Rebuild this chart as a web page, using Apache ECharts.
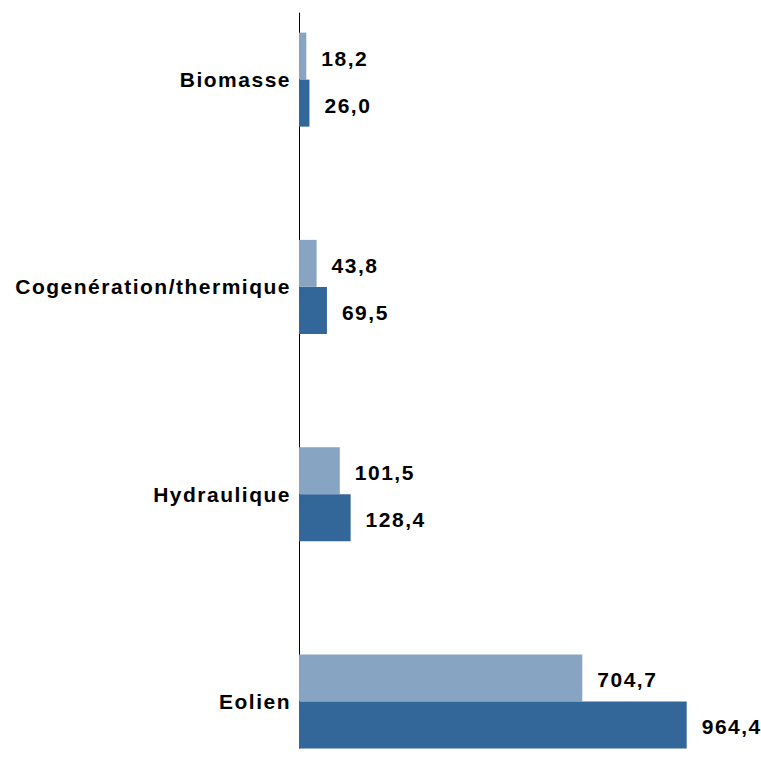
<!DOCTYPE html>
<html>
<head>
<meta charset="utf-8">
<script src="https://cdn.jsdelivr.net/npm/echarts@6/dist/echarts.min.js"></script>
<style>
    html, body { margin: 0; padding: 0; background: #fff; }
    #chart { width: 761px; height: 764px; }
    #chart text { letter-spacing: 1.5px; }
</style>
</head>
<body>
<div id="chart"></div>
<script>
const categories = ['Biomasse', 'Cogenération/thermique', 'Hydraulique', 'Eolien'];
const serieClaire = [18.2, 43.8, 101.5, 704.7];
const serieFoncee = [26.0, 69.5, 128.4, 964.4];

const fontFamily = '"Liberation Sans", Arial, sans-serif';
const fmt = (p) => p.value.toFixed(1).replace('.', ',');

const barLabel = {
    show: true,
    position: 'right',
    distance: 15,
    offset: [0, 2],
    formatter: fmt,
    color: '#000',
    fontSize: 21,
    fontWeight: 'bold',
    fontFamily: fontFamily,
};

const chart = echarts.init(document.getElementById('chart'), null, {renderer: 'svg'});
chart.setOption({
    animation: false,
    backgroundColor: '#fff',
    grid: [
        // bandes de catégories plus hautes que l'axe visible
        {left: 299, top: -24, width: 400, height: 829, outerBoundsMode: 'none', containLabel: false},
        {left: 299, top: 13, width: 400, height: 735, outerBoundsMode: 'none', containLabel: false},
    ],
    xAxis: [
        {type: 'value', gridIndex: 0, min: 0, max: 995, show: false},
        {type: 'value', gridIndex: 1, min: 0, max: 995, show: false},
    ],
    yAxis: [
        {
            type: 'category',
            gridIndex: 0,
            inverse: true,
            data: categories,
            axisLine: {show: false},
            axisTick: {show: false},
            axisLabel: {
                margin: 8,
                color: '#000',
                fontSize: 21,
                fontWeight: 'bold',
                fontFamily: fontFamily,
            },
        },
        {
            type: 'value',
            gridIndex: 1,
            min: 0,
            max: 1,
            axisLine: {show: true, onZero: false, lineStyle: {color: '#000', width: 1}},
            axisTick: {show: false},
            axisLabel: {show: false},
            splitLine: {show: false},
        },
    ],
    series: [
        {
            name: 'Série 1',
            type: 'bar',
            xAxisIndex: 0,
            yAxisIndex: 0,
            data: serieClaire,
            barWidth: 47,
            barGap: '0%',
            itemStyle: {color: '#87a5c2'},
            label: barLabel,
        },
        {
            name: 'Série 2',
            type: 'bar',
            xAxisIndex: 0,
            yAxisIndex: 0,
            data: serieFoncee,
            barWidth: 47,
            barGap: '0%',
            itemStyle: {color: '#336699'},
            label: barLabel,
        },
    ],
});
</script>
</body>
</html>
